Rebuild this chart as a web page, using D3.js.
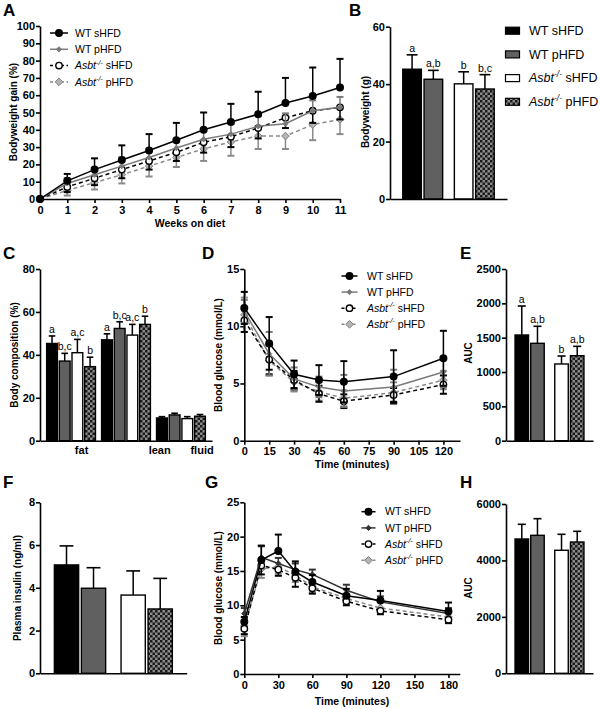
<!DOCTYPE html>
<html><head><meta charset="utf-8">
<script src="https://cdn.jsdelivr.net/npm/d3@7"></script>
<style>body{margin:0;background:#fff} svg{display:block} text{font-family:"Liberation Sans",Arial,Helvetica,sans-serif}</style>
</head><body><svg id="c" width="600" height="709"></svg>
<script>
// ---------------- DATA ----------------
const genotypes = ["WT","WT","Asbt","Asbt"];
const diets = ["sHFD","pHFD","sHFD","pHFD"];

// A: bodyweight gain (%)
const weeksA = [0,1,2,3,4,5,6,7,8,9,10,11];
const A_WT_s = [0,10.5,17,22.5,28,34,40,44.5,49,55.5,59.5,64.5];
const A_WT_s_err = [0,4,6.5,8.5,9.5,10,10,10.5,13,14.5,16.5,16.5];
const A_WT_p = [0,9,14,19,24,29.5,34.5,37.5,42,43.5,51,53];
const A_WT_p_err = [0,3,4,5,5,5,5,6,6,6,6,6];
const A_KO_s = [0,7,12,17,22,27,32.8,36,41,47,51,53];
const A_KO_s_err = [0,3,4,5,5,5,6,6,6,6,7,7];
const A_KO_p = [0,5,9.5,14,19,24,29,33,36.4,36.4,43,46];
const A_KO_p_err = [0,3,4,5,6,5.5,7,8,7.5,7.5,9,8.5];
const ticksA_y = [0,10,20,30,40,50,60,70,80,90,100];

// B: bodyweight (g)
const B_vals = [45.2,41.7,40.1,38.3];
const B_err = [5.0,3.1,4.2,5.0];
const B_letters = ["a","a,b","b","b,c"];
const ticksB_y = [0,20,40,60];

// C: body composition (%)
const compartments = ["fat","lean","fluid"];
const C_fat = [45.3,37.1,41.0,34.5];
const C_fat_err = [3.5,3.6,6.2,4.4];
const C_lean = [47.0,52.3,49.2,54.2];
const C_lean_err = [2.8,3.1,5.0,3.8];
const C_fluid = [10.6,12.0,10.3,11.4];
const C_fluid_err = [0.6,0.8,0.9,0.8];
const C_letters_fat = ["a","b,c","a,c","b"];
const C_letters_lean = ["a","b,c","a,c","b"];
const ticksC_y = [0,20,40,60,80];

// D: ITT blood glucose
const timesD = [0,15,30,45,60,90,120];
const D_WT_s = [11.6,8.5,5.8,5.3,5.15,5.6,7.2];
const D_WT_s_err = [1.4,2.3,1.2,1.3,1.8,2.3,2.4];
const D_WT_p = [11.3,7.6,5.4,4.7,4.35,4.7,6.0];
const D_WT_p_err = [1.0,1.9,1.0,0.9,1.4,1.5,1.3];
const D_KO_s = [10.5,7.1,5.3,4.1,3.45,4.0,4.9];
const D_KO_s_err = [1.0,1.3,0.8,0.7,0.6,0.6,0.8];
const D_KO_p = [11.0,7.0,5.1,4.3,3.7,4.2,5.3];
const D_KO_p_err = [1.5,1.3,0.8,0.8,0.7,0.9,0.8];
const ticksD_x = [0,15,30,45,60,75,90,105,120];
const ticksD_y = [0,5,10,15];

// E: ITT AUC
const E_vals = [1539,1418,1117,1238];
const E_err = [422,248,116,136];
const E_letters = ["a","a,b","b","a,b"];
const ticksE_y = [0,500,1000,1500,2000,2500];

// F: plasma insulin
const F_vals = [5.07,3.98,3.66,3.01];
const F_err = [0.89,0.96,1.13,1.43];
const ticksF_y = [0,2,4,6,8];

// G: GTT blood glucose
const timesG = [0,15,30,45,60,90,120,180];
const G_WT_s = [7.6,16.6,17.9,14.9,13.4,11.4,10.7,9.1];
const G_WT_s_err = [0.7,2.1,2.4,1.5,1.0,1.0,1.4,1.3];
const G_WT_p = [8.8,17.0,16.1,15.2,14.5,12.2,10.5,8.8];
const G_WT_p_err = [0.8,1.6,0.8,0.9,0.7,0.8,0.8,0.8];
const G_KO_s = [6.6,15.8,15.2,14.0,12.5,10.6,9.2,7.9];
const G_KO_s_err = [0.8,1.3,0.9,1.3,0.8,0.6,0.5,0.5];
const G_KO_p = [7.0,15.3,15.6,14.4,12.7,11.0,9.6,8.3];
const G_KO_p_err = [1.5,1.3,1.0,1.0,0.8,0.7,0.6,0.6];
const ticksG_x = [0,30,60,90,120,150,180];
const ticksG_y = [0,5,10,15,20,25];

// H: GTT AUC
const H_vals = [4760,4890,4360,4653];
const H_err = [520,590,566,379];
const ticksH_y = [0,2000,4000,6000];

// ---------------- DRAWING ----------------
const svg = d3.select("#c");
const FONT = '"Liberation Sans",Arial,Helvetica,sans-serif';
const fmt = d3.format("d");
const defs = svg.append("defs");
const pat = defs.append("pattern").attr("id","checker").attr("width",5).attr("height",5).attr("patternUnits","userSpaceOnUse");
pat.append("rect").attr("width",5).attr("height",5).attr("fill","#8c8c8c");
pat.append("rect").attr("width",2.5).attr("height",2.5).attr("fill","#1a1a1a");
pat.append("rect").attr("x",2.5).attr("y",2.5).attr("width",2.5).attr("height",2.5).attr("fill","#1a1a1a");

const barFills = ["#000","#606060","#fff","url(#checker)"];
const lineStyles = [
  {stroke:"#000", dash:null, shape:"circle", fill:"#000", mstroke:"#000", r:3.3},
  {stroke:"#7a7a7a", dash:null, shape:"diamond", fill:"#7a7a7a", mstroke:"#7a7a7a", r:2.6},
  {stroke:"#000", dash:"4,3", shape:"circle", fill:"#fff", mstroke:"#000", r:3.2},
  {stroke:"#8a8a8a", dash:"4,3", shape:"diamond", fill:"#b4b4b4", mstroke:"#808080", r:3.8}
];

function styleAxis(g){
  g.attr("font-family", FONT);
  g.select(".domain").attr("stroke","#000").attr("stroke-width",1.6);
  g.selectAll(".tick line").attr("stroke","#000").attr("stroke-width",1.6);
  g.selectAll(".tick text").attr("font-size",11).attr("font-weight","bold").attr("fill","#000");
}

function panelLetter(t,x,y){
  svg.append("text").attr("x",x).attr("y",y).attr("font-size",17).attr("font-weight","bold").text(t);
}
function yTitle(t,x,y){
  svg.append("text").attr("transform",`translate(${x},${y}) rotate(-90)`).attr("text-anchor","middle")
    .attr("font-size",10).attr("font-weight","bold").attr("dy","0.35em").text(t);
}
function xTitle(t,x,y){
  svg.append("text").attr("x",x).attr("y",y).attr("text-anchor","middle").attr("font-size",10.5).attr("font-weight","bold").text(t);
}
function legendLabel(txt, i, size, extraSpace){
  if (genotypes[i]==="WT") { txt.text(`WT ${diets[i]}`); return; }
  txt.append("tspan").attr("font-style","italic").text(genotypes[i]);
  txt.append("tspan").attr("font-style","italic").attr("font-size",size*0.68).attr("dy",-size*0.42).text("-/-");
  txt.append("tspan").attr("dy",size*0.42).text((extraSpace?"  ":" ")+diets[i]);
}
function drawMarker(g, st, cx, cy){
  if (st.shape==="circle"){
    g.append("circle").attr("cx",cx).attr("cy",cy).attr("r",st.r).attr("fill",st.fill).attr("stroke",st.mstroke).attr("stroke-width",1.4);
  } else {
    const r = st.r;
    g.append("path").attr("d",`M${cx},${cy-r}L${cx+r},${cy}L${cx},${cy+r}L${cx-r},${cy}Z`).attr("fill",st.fill).attr("stroke",st.mstroke).attr("stroke-width",1);
  }
}

function linePanel(o){
  const x = d3.scaleLinear().domain(o.xDomain).range(o.xRange);
  const y = d3.scaleLinear().domain(o.yDomain).range(o.yRange);
  const g = svg.append("g");
  styleAxis(g.append("g").attr("transform",`translate(0,${o.yRange[0]})`)
    .call(d3.axisBottom(x).tickValues(o.xTicks).tickFormat(fmt).tickSize(4).tickSizeOuter(0).tickPadding(3)));
  styleAxis(g.append("g").attr("transform",`translate(${o.xRange[0]},0)`)
    .call(d3.axisLeft(y).tickValues(o.yTicks).tickFormat(fmt).tickSize(4).tickSizeOuter(0).tickPadding(1)));
  const sg = g.append("g");
  for (let i=o.series.length-1;i>=0;i--){
    const s = o.series[i];
    const st = Object.assign({}, lineStyles[i], (o.styleOverride||{})[i]||{});
    const pts = o.xVals.map((t,k)=>({t, v:s.v[k], e:s.e[k]}));
    const dirs = s.dir==="both"?[1,-1]:(s.dir==="up"?[1]:[-1]);
    const eg = sg.append("g").attr("stroke",st.stroke).attr("stroke-width",1.5);
    pts.forEach(p=>{
      if (!p.e) return;
      dirs.forEach(d=>{
        const y2 = y(p.v+d*p.e);
        eg.append("line").attr("x1",x(p.t)).attr("x2",x(p.t)).attr("y1",y(p.v)).attr("y2",y2);
        eg.append("line").attr("x1",x(p.t)-3.5).attr("x2",x(p.t)+3.5).attr("y1",y2).attr("y2",y2).attr("stroke-width",2);
      });
    });
    sg.append("path").datum(pts).attr("fill","none").attr("stroke",st.stroke).attr("stroke-width",1.5)
      .attr("stroke-dasharray",st.dash).attr("d",d3.line().x(p=>x(p.t)).y(p=>y(p.v)));
    const mg = sg.append("g");
    pts.forEach(p=>drawMarker(mg, st, x(p.t), y(p.v)));
  }
  // legend
  const lg = g.append("g");
  o.series.forEach((s,i)=>{
    const st = Object.assign({}, lineStyles[i], (o.styleOverride||{})[i]||{});
    const ry = o.legend.y0 + i*o.legend.dy;
    lg.append("line").attr("x1",o.legend.x).attr("x2",o.legend.x+o.legend.w).attr("y1",ry).attr("y2",ry)
      .attr("stroke",st.stroke).attr("stroke-width",1.5).attr("stroke-dasharray",st.dash?"3,2.5":null);
    drawMarker(lg, st, o.legend.x+o.legend.w/2, ry);
    const t = lg.append("text").attr("x",o.legend.tx).attr("y",ry+3.6).attr("font-size",10.5);
    legendLabel(t, i, 10.5, false);
  });
}

function barPanel(o){
  const y = d3.scaleLinear().domain(o.yDomain).range(o.yRange);
  const x0 = d3.scaleBand().domain(o.outer).range(o.xRange).paddingInner(o.pi).paddingOuter(o.po);
  const x1 = d3.scaleBand().domain(o.inner).range([0,x0.bandwidth()]).paddingInner(o.ii);
  const g = svg.append("g");
  const bw = x1.bandwidth();
  o.bars.forEach(b=>{
    const bx = x0(b.outer)+x1(b.inner);
    const cx = bx+bw/2;
    const yt = y(b.v+b.e);
    g.append("line").attr("x1",cx).attr("x2",cx).attr("y1",y(b.v)).attr("y2",yt).attr("stroke","#000").attr("stroke-width",1.5);
    g.append("line").attr("x1",cx-bw*0.27).attr("x2",cx+bw*0.27).attr("y1",yt).attr("y2",yt).attr("stroke","#000").attr("stroke-width",1.6);
    g.append("rect").attr("x",bx+0.7).attr("y",y(b.v)).attr("width",bw-1.4).attr("height",y(0)-y(b.v))
      .attr("fill",barFills[b.k]).attr("stroke","#000").attr("stroke-width",1.4);
    if (b.letter) g.append("text").attr("x",cx).attr("y",yt-3).attr("text-anchor","middle").attr("font-size",10.5).text(b.letter);
  });
  styleAxis(g.append("g").attr("transform",`translate(0,${o.yRange[0]})`)
    .call(d3.axisBottom(x0).tickSize(0).tickSizeOuter(0).tickFormat("")));
  styleAxis(g.append("g").attr("transform",`translate(${o.xRange[0]},0)`)
    .call(d3.axisLeft(y).tickValues(o.yTicks).tickFormat(fmt).tickSize(4).tickSizeOuter(0).tickPadding(1)));
  return {x0, x1, y};
}
function pairBars(vals, errs, letters){
  return vals.map((v,i)=>({outer:genotypes[i], inner:diets[i], k:i, v, e:errs[i], letter:letters?letters[i]:null}));
}

// ---- Panel A
panelLetter("A",3,16);
linePanel({
  xDomain:[0,11], xRange:[40,340], yDomain:[0,100], yRange:[199,26],
  xTicks:weeksA, yTicks:ticksA_y, xVals:weeksA,
  series:[
    {v:A_WT_s, e:A_WT_s_err, dir:"up"},
    {v:A_WT_p, e:A_WT_p_err, dir:"up"},
    {v:A_KO_s, e:A_KO_s_err, dir:"down"},
    {v:A_KO_p, e:A_KO_p_err, dir:"down"}],
  legend:{x:50, w:18, tx:75, y0:33, dy:16.3}
});
yTitle("Bodyweight gain (%)",13,112);
xTitle("Weeks on diet",190,227);

// ---- Panel B
panelLetter("B",349,16);
barPanel({
  yDomain:[0,60], yRange:[199,26.7], yTicks:ticksB_y, xRange:[390,507],
  outer:["WT","Asbt"], inner:["sHFD","pHFD"], pi:0.2, po:0.234, ii:0.06,
  bars:pairBars(B_vals,B_err,B_letters)
});
yTitle("Bodyweight (g)",365,112);
{
  const lg = svg.append("g");
  genotypes.forEach((gn,i)=>{
    const ry = 30.7 + i*23.7;
    lg.append("rect").attr("x",505.5).attr("y",ry-3.5).attr("width",14).attr("height",7)
      .attr("fill",barFills[i]).attr("stroke","#000").attr("stroke-width",1.2);
    const t = lg.append("text").attr("x",529).attr("y",ry+4.3).attr("font-size",12.5);
    legendLabel(t,i,12.5,i===3);
  });
}

// ---- Panel C
panelLetter("C",3,259);
{
  const cVals=[C_fat,C_lean,C_fluid], cErr=[C_fat_err,C_lean_err,C_fluid_err], cLet=[C_letters_fat,C_letters_lean,null];
  const bars=[];
  compartments.forEach((c,ci)=>genotypes.forEach((gn,i)=>bars.push({outer:c, inner:String(i), k:i, v:cVals[ci][i], e:cErr[ci][i], letter:cLet[ci]?cLet[ci][i]:null})));
  const sc = barPanel({
    yDomain:[0,80], yRange:[440.7,269], yTicks:ticksC_y, xRange:[40,212],
    outer:compartments, inner:["0","1","2","3"], pi:0.086, po:0.108, ii:0.04, bars
  });
  const labelShift=[0.21,0.67,0.42];
  compartments.forEach((c,ci)=>{
    svg.append("text").attr("x",sc.x0(c)+sc.x0.bandwidth()*(0.5+labelShift[ci])).attr("y",453.5)
      .attr("text-anchor","middle").attr("font-size",11).attr("font-weight","bold").text(c);
  });
}
yTitle("Body composition (%)",14,355);

// ---- Panel D
panelLetter("D",202,259);
linePanel({
  xDomain:[0,130], xRange:[244.3,460], yDomain:[0,15], yRange:[440.7,269],
  xTicks:ticksD_x, yTicks:ticksD_y, xVals:timesD,
  series:[
    {v:D_WT_s, e:D_WT_s_err, dir:"both"},
    {v:D_WT_p, e:D_WT_p_err, dir:"both"},
    {v:D_KO_s, e:D_KO_s_err, dir:"both"},
    {v:D_KO_p, e:D_KO_p_err, dir:"both"}],
  legend:{x:341.5, w:16, tx:367, y0:276, dy:16.1}
});
yTitle("Blood glucose (mmol/L)",218,355);
xTitle("Time (minutes)",352,468);

// ---- Panel E
panelLetter("E",460,259);
barPanel({
  yDomain:[0,2500], yRange:[440.7,269], yTicks:ticksE_y, xRange:[506,593],
  outer:["WT","Asbt"], inner:["sHFD","pHFD"], pi:0.23, po:0.21, ii:0.05,
  bars:pairBars(E_vals,E_err,E_letters)
});
yTitle("AUC",468,353);

// ---- Panel F
panelLetter("F",3,488);
barPanel({
  yDomain:[0,8], yRange:[673.3,502.3], yTicks:ticksF_y, xRange:[40,186.7],
  outer:["WT","Asbt"], inner:["sHFD","pHFD"], pi:0.21, po:0.205, ii:0.05,
  bars:pairBars(F_vals,F_err,null)
});
yTitle("Plasma insulin (ng/ml)",17,588);

// ---- Panel G
panelLetter("G",205,488);
linePanel({
  xDomain:[0,190], xRange:[244.3,459.8], yDomain:[0,25], yRange:[674,502.3],
  xTicks:ticksG_x, yTicks:ticksG_y, xVals:timesG,
  series:[
    {v:G_WT_s, e:G_WT_s_err, dir:"up"},
    {v:G_WT_p, e:G_WT_p_err, dir:"up"},
    {v:G_KO_s, e:G_KO_s_err, dir:"down"},
    {v:G_KO_p, e:G_KO_p_err, dir:"down"}],
  styleOverride:{1:{stroke:"#333", fill:"#333", mstroke:"#333"}},
  legend:{x:361.5, w:14, tx:385, y0:511.7, dy:16.2}
});
yTitle("Blood glucose (mmol/L)",218,588);
xTitle("Time (minutes)",352,705);

// ---- Panel H
panelLetter("H",460,488);
barPanel({
  yDomain:[0,6000], yRange:[673.3,504], yTicks:ticksH_y, xRange:[506,593],
  outer:["WT","Asbt"], inner:["sHFD","pHFD"], pi:0.23, po:0.21, ii:0.05,
  bars:pairBars(H_vals,H_err,null)
});
yTitle("AUC",468,588);
</script></body></html>
